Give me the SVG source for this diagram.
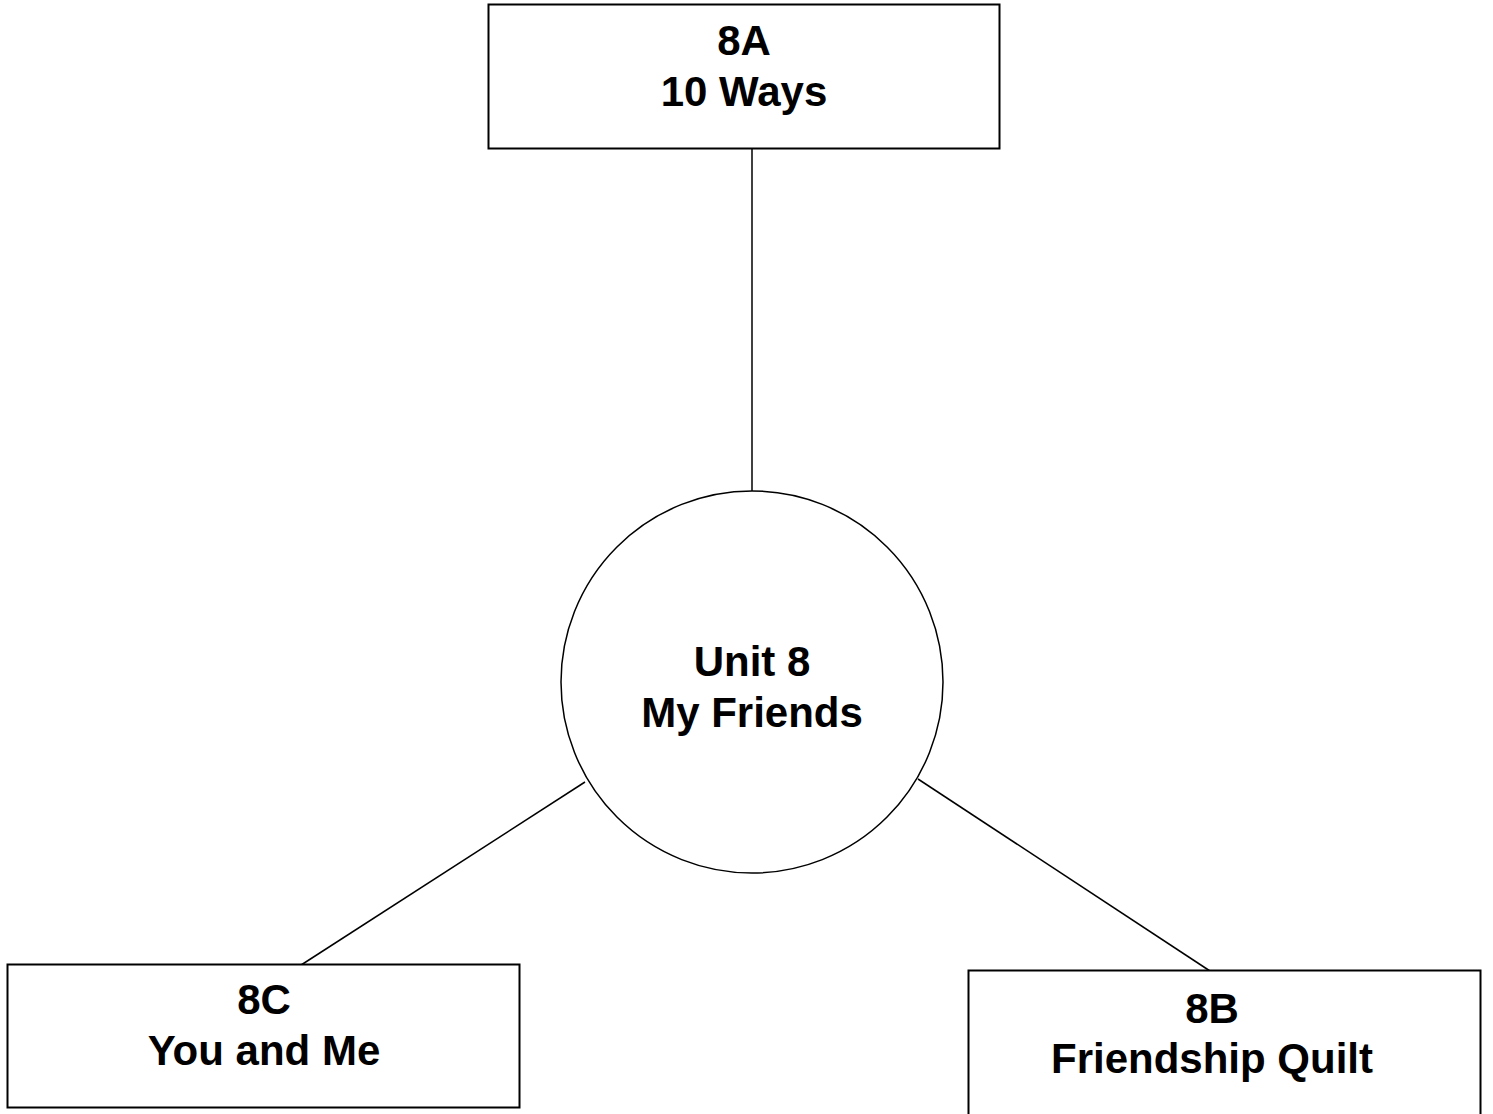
<svg xmlns="http://www.w3.org/2000/svg" width="1493" height="1114" viewBox="0 0 1493 1114">
<style>
.box{fill:#fff;stroke:#000;stroke-width:2}
.lbl{font-family:"Liberation Sans",Arial,sans-serif;font-weight:bold;font-size:42px;fill:#000;text-anchor:middle}
.con{stroke:#000;stroke-width:1.5;fill:none}
</style>
<rect width="1493" height="1114" fill="#fff"/>
<g id="connectors">
<line class="con" x1="752" y1="149" x2="752" y2="491"/>
<line class="con" x1="585" y1="782" x2="298" y2="967"/>
<line class="con" x1="918" y1="779" x2="1210" y2="971"/>
</g>
<g id="node-8A">
<rect class="box" x="488.5" y="4.5" width="511" height="144"/>
<text class="lbl" x="744" y="55">8A</text>
<text class="lbl" x="744" y="106">10 Ways</text>
</g>
<g id="node-unit8">
<circle class="box" cx="752" cy="682" r="191" style="stroke-width:1.5"/>
<text class="lbl" x="752" y="676">Unit 8</text>
<text class="lbl" x="752" y="727">My Friends</text>
</g>
<g id="node-8C">
<rect class="box" x="7.5" y="964.5" width="512" height="143"/>
<text class="lbl" x="264" y="1014">8C</text>
<text class="lbl" x="264" y="1065">You and Me</text>
</g>
<g id="node-8B">
<rect class="box" x="968.5" y="970.5" width="512" height="160"/>
<text class="lbl" x="1212" y="1023">8B</text>
<text class="lbl" x="1212" y="1073">Friendship Quilt</text>
</g>
</svg>
